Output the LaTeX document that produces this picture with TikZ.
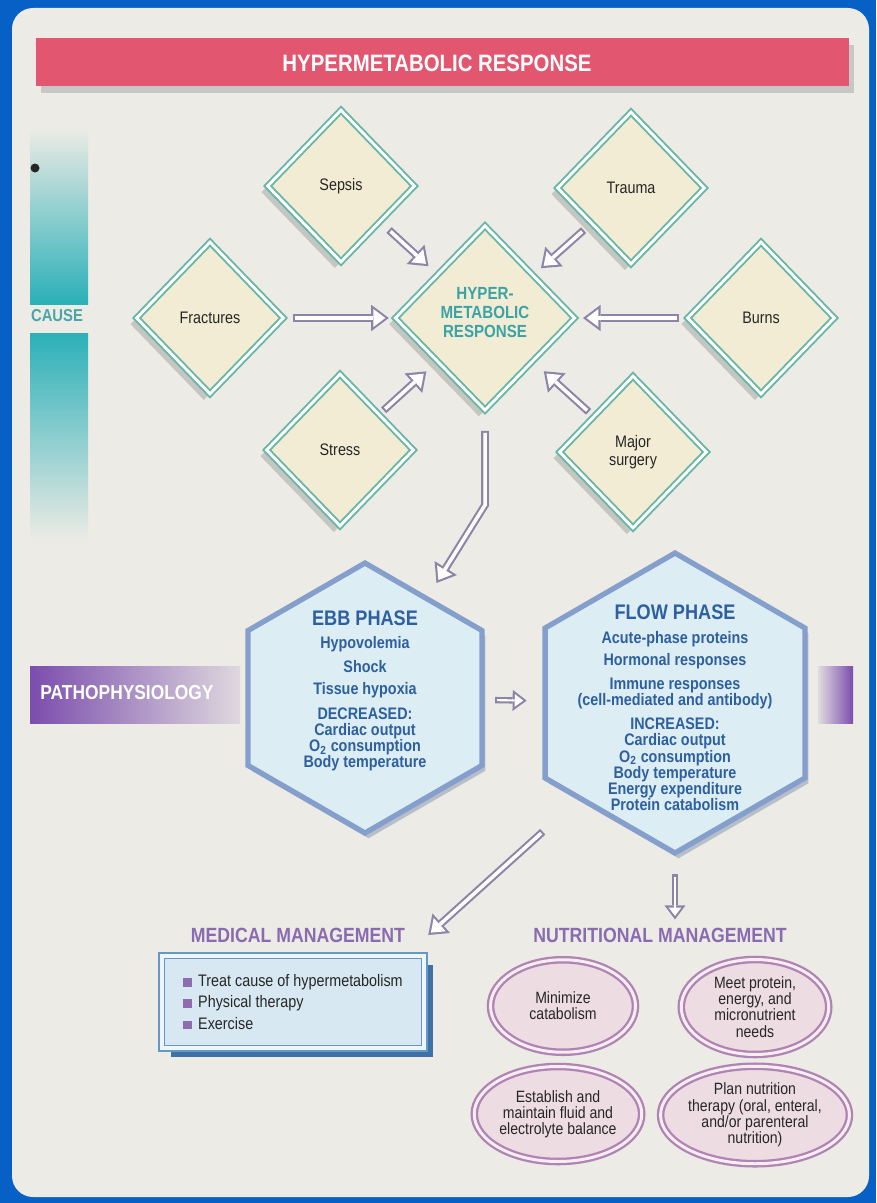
\documentclass[tikz,border=0pt]{standalone}
\usepackage{fontspec}
\setmainfont{Liberation Sans}[FakeStretch=0.86]
\usetikzlibrary{shapes.geometric,arrows.meta,shadows,positioning}

\definecolor{bgblue}{HTML}{0660C6}
\definecolor{pagec}{HTML}{ECEBE5}
\definecolor{titlec}{HTML}{E2566F}
\definecolor{tealc}{HTML}{2BB0B8}
\definecolor{causetxt}{HTML}{4AA5A8}
\definecolor{diambd}{HTML}{67B7A6}
\definecolor{diamf}{HTML}{F3ECD4}
\definecolor{hypertxt}{HTML}{3AA3A6}
\definecolor{arrowc}{HTML}{8E84A8}
\definecolor{hexbd}{HTML}{859FCC}
\definecolor{hexf}{HTML}{DCEEF3}
\definecolor{hextxt}{HTML}{2E5FA0}
\definecolor{pathoc}{HTML}{7B4DAD}
\definecolor{mgmtc}{HTML}{8A6AB0}
\definecolor{medf}{HTML}{D8E8F2}
\definecolor{medbd}{HTML}{6498C8}
\definecolor{medsh}{HTML}{3E72A6}
\definecolor{ellf}{HTML}{EDDCE1}
\definecolor{ellbd}{HTML}{B083B4}
\definecolor{bulc}{HTML}{8E6CB0}
\definecolor{txtc}{HTML}{262626}

\newcommand{\sqb}{\textcolor{bulc}{\rule{5pt}{5pt}}\hspace{3.5pt}}
\newcommand{\fatarrow}[4][fat]{%
  \draw[#1out, shorten <=#2, shorten >=#3] #4;
  \draw[#1in, shorten <=#2+1.2pt, shorten >=#3+2pt] #4;}

\tikzset{
  fatout/.style={draw=arrowc, line width=4.4pt, -{Triangle[length=10pt,width=15pt,line width=0pt]}},
  fatin/.style={draw=white, line width=2pt, -{Triangle[length=6.8pt,width=10.2pt,line width=0pt]}},
  slimout/.style={draw=arrowc, line width=3.6pt, -{Triangle[length=8pt,width=12pt,line width=0pt]}},
  slimin/.style={draw=white, line width=1.2pt, -{Triangle[length=4.8pt,width=7.2pt,line width=0pt]}},
  cause/.style={diamond, draw=diambd, line width=1.1pt, double=white, double distance=1.6pt,
    fill=diamf, minimum width=2.95cm, minimum height=3.05cm, inner sep=0pt, align=center,
    text=txtc, font=\fontsize{9.5}{10.5}\selectfont,
    drop shadow={shadow xshift=-3.5pt, shadow yshift=-3.5pt, fill=black!35, opacity=0.55}},
  phase/.style={regular polygon, regular polygon sides=6, shape border rotate=30,
    draw=hexbd, line width=3pt, fill=hexf, inner sep=0pt,
    drop shadow={shadow xshift=2pt, shadow yshift=-3pt, fill=hexbd!60!gray, opacity=0.5}},
  phasehead/.style={text=hextxt, font=\bfseries\fontsize{12}{13}\selectfont, inner sep=0pt},
  phasetext/.style={text=hextxt, font=\bfseries\fontsize{9.5}{9.25}\selectfont, align=center,
    inner sep=0pt, anchor=north},
  mgmt/.style={text=mgmtc, font=\bfseries\fontsize{11.7}{13}\selectfont, inner sep=0pt},
  medbox/.style={rectangle, draw=medbd, line width=0.9pt, double=white!60!medf, double distance=2.4pt,
    fill=medf, minimum width=5.25cm, minimum height=1.85cm, align=left, text=txtc,
    font=\fontsize{9.5}{12.2}\selectfont,
    drop shadow={shadow xshift=5pt, shadow yshift=-5pt, fill=medsh, opacity=1}},
  nutr/.style={ellipse, draw=ellbd, line width=1.3pt, double=ellf!50!white, double distance=1.7pt,
    fill=ellf, inner sep=0pt, align=center, text=txtc, font=\fontsize{9.3}{9.2}\selectfont}
}

\begin{document}
\begin{tikzpicture}[x=0.02cm, y=-0.02cm]
\useasboundingbox (0,0) rectangle (876,1203);
\fill[bgblue] (0,0) rectangle (876,1203);
\fill[pagec, rounded corners=12pt] (12,8) rectangle (869,1197);

\fill[black!22] (41,45) rectangle (854,93);
\fill[titlec] (36,38) rectangle (849,86);
\node[text=white, font=\bfseries\fontsize{13.5}{15}\selectfont] (title) at (437,63) {HYPERMETABOLIC RESPONSE};

\shade[top color=pagec, bottom color=tealc] (30,128) rectangle (88,304);
\shade[top color=tealc, bottom color=pagec] (30,333) rectangle (88,540);
\node[text=causetxt, font=\bfseries\fontsize{9.8}{11}\selectfont, inner sep=0pt] (causelbl) at (57,316) {CAUSE};
\fill[black!85] (35,168) circle (4.5);

\shade[left color=pathoc, right color=pathoc!12!pagec] (30,666) rectangle (240,723);
\shade[left color=pathoc!10!pagec, right color=pathoc] (818,666) rectangle (853,723);
\node[text=white, font=\bfseries\fontsize{11.5}{13}\selectfont, inner sep=0pt] (patholbl) at (127,693) {PATHOPHYSIOLOGY};

\node[cause] (sepsis) at (341,186) {Sepsis};
\node[cause] (trauma) at (631,188) {Trauma};
\node[cause] (fractures) at (210,318) {Fractures};
\node[cause] (burns) at (761,318) {Burns};
\node[cause] (stress) at (340,450) {Stress};
\node[cause] (major) at (633,452) {Major\\surgery};
\node[cause, minimum width=3.6cm, minimum height=3.7cm, text=hypertxt,
      font=\bfseries\fontsize{10}{10.8}\selectfont] (hyper) at (485,318) {HYPER-\\METABOLIC\\RESPONSE\\[-4pt]\mbox{}};

\fatarrow{6.5pt}{6.5pt}{(sepsis) -- (hyper)}
\fatarrow{5.5pt}{5.5pt}{(trauma) -- (hyper)}
\fatarrow{4.5pt}{3pt}{(fractures) -- (hyper)}
\fatarrow{4pt}{4pt}{(burns) -- (hyper)}
\fatarrow{3pt}{8pt}{(stress) -- (hyper)}
\fatarrow{3.5pt}{8pt}{(major) -- (hyper)}

\node[phase, minimum size=5.4cm] (ebb) at (365,698) {};
\node[phase, minimum size=6cm] (flow) at (675,703) {};
\coordinate (bend) at (485,505);
\fatarrow{11pt}{9pt}{(hyper.south) -- (bend) -- (ebb)}
\fatarrow[slim]{6pt}{9pt}{(ebb) -- (flow)}

\node[phasehead] (ebbhead) at (365,618) {EBB PHASE};
\node[phasetext] (ebbbody) at (365,636) {Hypovolemia\\[4.4pt] Shock\\[3.2pt] Tissue hypoxia\\[4.9pt]
  DECREASED:\\ Cardiac output\\ O\textsubscript{2} consumption\\ Body temperature};
\node[phasehead] (flowhead) at (675,612) {FLOW PHASE};
\node[phasetext] (flowbody) at (675,631) {Acute-phase proteins\\[3.2pt] Hormonal responses\\[4.4pt]
  Immune responses\\ (cell-mediated and antibody)\\[4.4pt] INCREASED:\\ Cardiac output\\
  O\textsubscript{2} consumption\\ Body temperature\\ Energy expenditure\\ Protein catabolism};

\node[mgmt] (medtitle) at (298,935) {MEDICAL MANAGEMENT};
\node[mgmt] (nuttitle) at (660,935) {NUTRITIONAL MANAGEMENT};
\fatarrow{27pt}{0pt}{(flow.225) -- ([xshift=13pt]medtitle.east)}
\fatarrow[slim]{10.5pt}{4.5pt}{(flow.270) -- (flow.270 |- nuttitle.north)}

\node[medbox] (medical) at (293,1002) {\sqb Treat cause of hypermetabolism\\ \sqb Physical therapy\\ \sqb Exercise};

\node[nutr, minimum width=2.9cm, minimum height=1.85cm] (minimize) at (563,1006) {Minimize\\catabolism};
\node[nutr, minimum width=2.95cm, minimum height=1.9cm] (meet) at (755,1007) {Meet protein,\\energy, and\\micronutrient\\needs};
\node[nutr, minimum width=3.35cm, minimum height=1.9cm] (establish) at (558,1114) {Establish and\\maintain fluid and\\electrolyte balance};
\node[nutr, minimum width=3.5cm, minimum height=1.95cm] (plan) at (755,1115) {Plan nutrition\\therapy (oral, enteral,\\and/or parenteral\\nutrition)};
\end{tikzpicture}
\end{document}
